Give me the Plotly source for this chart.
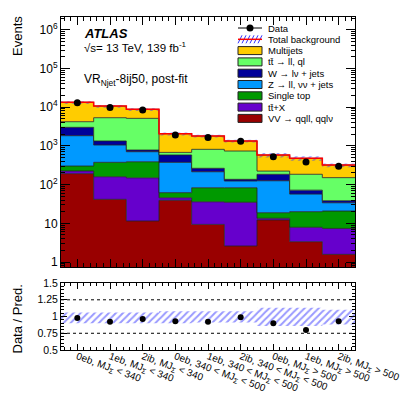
import numpy as np
import plotly.graph_objects as go

# bin labels (categories)
bin_labels = [
    "0eb, MJ<sub>Σ</sub> &lt; 340", "1eb, MJ<sub>Σ</sub> &lt; 340", "2ib, MJ<sub>Σ</sub> &lt; 340",
    "0eb, 340 &lt; MJ<sub>Σ</sub> &lt; 500", "1eb, 340 &lt; MJ<sub>Σ</sub> &lt; 500",
    "2ib, 340 &lt; MJ<sub>Σ</sub> &lt; 500",
    "0eb, MJ<sub>Σ</sub> &gt; 500", "1eb, MJ<sub>Σ</sub> &gt; 500", "2ib, MJ<sub>Σ</sub> &gt; 500",
]

# post-fit yields per background
vv = [192, 41.7, 11.5, 39.3, 9.4, 2.6, 12.2, 3.35, 1.58]
ttx = [33, 118, 138, 6.4, 26.6, 32.4, 1.3, 4.55, 5.8]
single_top = [77, 217, 240, 16.3, 47, 48, 5.3, 12.1, 13.4]
z_jets = [1533, 678, 318, 314, 132, 41, 107, 37, 13.2]
w_jets = [1185, 285, 75, 206, 49, 13, 59, 15, 4.4]
ttbar = [1200, 4010, 4370, 98, 552, 601, 39, 113, 113]
multijets = [9180, 5350, 3670, 1390, 984, 602, 358, 293, 170]

data = [13100, 9880, 8500, 1925, 1660, 1327, 524, 382, 299]

# relative uncertainty band on total background
band_hi = [1.06, 1.06, 1.06, 1.08, 1.08, 1.08, 1.13, 1.13, 1.10]
band_lo = [0.90, 0.90, 0.90, 0.90, 0.91, 0.91, 0.86, 0.86, 0.88]

# stacked from bottom to top
components = [
    ("VV → qqll, qqlν", vv, "#990000"),
    ("tt̄+X", ttx, "#6600cc"),
    ("Single top", single_top, "#009900"),
    ("Z → ll, νν + jets", z_jets, "#0099ff"),
    ("W → lν + jets", w_jets, "#000099"),
    ("tt̄ → ll, ql", ttbar, "#66ff66"),
    ("Multijets", multijets, "#ffcc00"),
]

W, H = 407, 395
ML, MR, MT, MB = 61, 52, 17, 45
PW, PH = W - ML - MR, H - MT - MB


def px2x(px):
    return (px - ML) / PW


def px2y(py):
    return 1 - (py - MT) / PH


edges = np.arange(len(data) + 1)
centers = edges[:-1] + 0.5


def steps(vals):
    vals = np.asarray(vals, dtype=float)
    return np.append(vals, vals[-1])


fig = go.Figure()

# invisible floor for the first fill on the log axis
fig.add_trace(go.Scatter(x=edges, y=np.full(len(edges), 1e-3), mode="lines",
                         line=dict(width=0), showlegend=False, hoverinfo="skip"))

cum = np.zeros(len(data))
for name, vals, col in components:
    cum = cum + np.asarray(vals, dtype=float)
    fig.add_trace(go.Scatter(
        x=edges, y=steps(cum), mode="lines", name=name, showlegend=False,
        line=dict(shape="hv", color="#222222", width=0.8),
        fill="tonexty", fillcolor=col,
    ))

total = cum
lo = total * np.asarray(band_lo)
hi = total * np.asarray(band_hi)
pattern = dict(shape="/", fgcolor="#3333ff", bgcolor="rgba(0,0,0,0)", size=5, solidity=0.4)

fig.add_trace(go.Scatter(x=edges, y=steps(lo), mode="lines", line=dict(shape="hv", width=0),
                         showlegend=False, hoverinfo="skip"))
fig.add_trace(go.Scatter(x=edges, y=steps(total), mode="lines", showlegend=False,
                         line=dict(shape="hv", color="red", width=1.5),
                         fill="tonexty", fillcolor="rgba(0,0,0,0)", fillpattern=pattern))
fig.add_trace(go.Scatter(x=edges, y=steps(hi), mode="lines", line=dict(shape="hv", width=0),
                         fill="tonexty", fillcolor="rgba(0,0,0,0)", fillpattern=pattern,
                         showlegend=False, hoverinfo="skip"))

fig.add_trace(go.Scatter(x=centers, y=data, mode="markers", showlegend=False,
                         marker=dict(color="black", size=7)))

# ratio panel
ratio = np.asarray(data) / total
fig.add_trace(go.Scatter(x=edges, y=steps(band_lo), mode="lines", line=dict(shape="hv", width=0),
                         showlegend=False, xaxis="x2", yaxis="y2", hoverinfo="skip"))
fig.add_trace(go.Scatter(x=edges, y=steps(band_hi), mode="lines", line=dict(shape="hv", width=0),
                         fill="tonexty", fillcolor="rgba(0,0,0,0)", fillpattern=pattern,
                         showlegend=False, xaxis="x2", yaxis="y2", hoverinfo="skip"))
fig.add_trace(go.Scatter(x=centers, y=ratio, mode="markers", marker=dict(color="black", size=6),
                         showlegend=False, xaxis="x2", yaxis="y2"))

font = "Liberation Sans, Arial, sans-serif"
axis_common = dict(showline=True, linecolor="black", linewidth=1, mirror="allticks",
                   ticks="inside", tickcolor="black", showgrid=False, zeroline=False)

# hand-made legend (ROOT-style compact rows)
shapes = []
annotations = []
leg_x0, leg_x1, leg_txt = 238, 262, 266
row0, drow = 28, 11.3
legend_rows = ["Data", "Total background"] + [c[0] for c in components[::-1]]
for i, label in enumerate(legend_rows):
    yc = row0 + i * drow
    annotations.append(dict(text=label, x=px2x(leg_txt), y=px2y(yc), xanchor="left",
                            yanchor="middle", font=dict(size=9.5)))
    if label == "Data":
        shapes.append(dict(type="line", xref="paper", yref="paper", x0=px2x(leg_x0),
                           x1=px2x(leg_x1), y0=px2y(yc), y1=px2y(yc),
                           line=dict(color="black", width=1)))
        shapes.append(dict(type="circle", xref="paper", yref="paper", x0=px2x(246.5),
                           x1=px2x(253.5), y0=px2y(yc - 3.5), y1=px2y(yc + 3.5),
                           fillcolor="black", line=dict(width=0)))
    elif label == "Total background":
        for k in range(6):
            sx = leg_x0 + k * 4
            shapes.append(dict(type="line", xref="paper", yref="paper", x0=px2x(sx),
                               x1=px2x(sx + 4), y0=px2y(yc + 4), y1=px2y(yc - 4),
                               line=dict(color="#3333ff", width=1)))
        shapes.append(dict(type="line", xref="paper", yref="paper", x0=px2x(leg_x0),
                           x1=px2x(leg_x1), y0=px2y(yc), y1=px2y(yc),
                           line=dict(color="red", width=1.5)))
    else:
        col = [c[2] for c in components if c[0] == label][0]
        shapes.append(dict(type="rect", xref="paper", yref="paper", x0=px2x(leg_x0),
                           x1=px2x(leg_x1), y0=px2y(yc - 4), y1=px2y(yc + 4),
                           fillcolor=col, line=dict(color="#222222", width=1)))

for v in (0.75, 1.25):
    shapes.append(dict(type="line", xref="x2 domain", yref="y2", x0=0, x1=1, y0=v, y1=v,
                       line=dict(color="black", width=1, dash="dot"), layer="below"))

texts = [
    ("<b><i>ATLAS</i></b>", 82, 33, 13),
    ("√s= 13 TeV, 139 fb<sup>-1</sup>", 82, 47, 11.5),
    ("VR<sub>Njet</sub>-8ij50, post-fit", 82, 80, 12),
]
for t, px, py, fs in texts:
    annotations.append(dict(text=t, x=px2x(px), y=px2y(py), xanchor="left", yanchor="middle",
                            font=dict(size=fs)))
annotations.append(dict(text="Events", x=px2x(17), y=px2y(14), xanchor="center", yanchor="top",
                        textangle=-90, font=dict(size=13)))
annotations.append(dict(text="Data / Pred.", x=px2x(17), y=px2y(283), xanchor="center",
                        yanchor="top", textangle=-90, font=dict(size=13)))
for a in annotations:
    a.update(xref="paper", yref="paper", showarrow=False)

fig.update_layout(
    width=W, height=H,
    margin=dict(l=ML, r=MR, t=MT, b=MB),
    paper_bgcolor="white", plot_bgcolor="white",
    font=dict(family=font, color="black"),
    showlegend=False,
    xaxis=dict(domain=[0, 1], range=[0, 9], anchor="y", tickvals=centers, showticklabels=False,
               ticklen=8, minor=dict(ticks="inside", ticklen=4, dtick=0.2, tick0=0.5,
                                      tickcolor="black"), **axis_common),
    yaxis=dict(domain=[0.249, 1], type="log", range=[-0.13, 6.33], anchor="x",
               tickvals=[1, 10, 100, 1e3, 1e4, 1e5, 1e6],
               ticktext=["1", "10", "10<sup>2</sup>", "10<sup>3</sup>", "10<sup>4</sup>",
                         "10<sup>5</sup>", "10<sup>6</sup>"],
               tickfont=dict(size=12), ticklen=9,
               minor=dict(ticks="inside", ticklen=4, dtick="D1", tickcolor="black"),
               **axis_common),
    xaxis2=dict(domain=[0, 1], range=[0, 9], anchor="y2", tickvals=centers, ticktext=bin_labels,
                tickangle=20, tickfont=dict(size=10), ticklen=6, automargin=False,
                ticklabelstandoff=-4,
                minor=dict(ticks="inside", ticklen=3, dtick=0.2, tick0=0.5, tickcolor="black"),
                **axis_common),
    yaxis2=dict(domain=[0, 0.201], range=[0.5, 1.5], anchor="x2",
                tickvals=[0.5, 0.75, 1, 1.25, 1.5], ticktext=["0.5", "0.75", "1", "1.25", "1.5"],
                tickfont=dict(size=10.5), ticklen=6,
                minor=dict(ticks="inside", ticklen=3, dtick=0.05, tickcolor="black"),
                **axis_common),
    shapes=shapes,
    annotations=annotations,
)

fig.write_html("out.html", config={"displayModeBar": False},
               post_script="document.body.style.margin='0';")
